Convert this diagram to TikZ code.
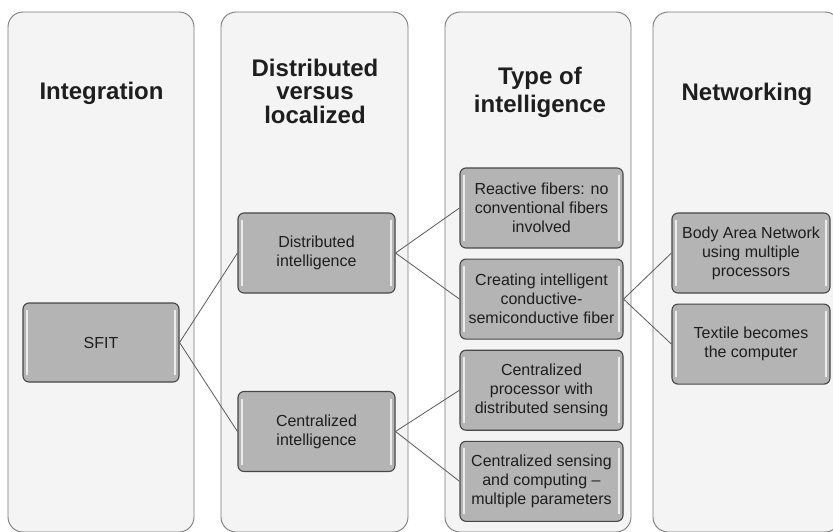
\documentclass[tikz,border=0pt]{standalone}
\usepackage{fontspec}
\setmainfont{Liberation Sans}
\usetikzlibrary{positioning}
\definecolor{panelfill}{HTML}{F4F4F4}
\definecolor{paneldraw}{HTML}{7A7A7A}
\definecolor{boxfill}{HTML}{B4B4B4}
\definecolor{boxdraw}{HTML}{474747}
\definecolor{linkcol}{HTML}{5A5A5A}
\definecolor{txt}{HTML}{1E1E1E}

\begin{document}
\begin{tikzpicture}[
    x=1pt, y=-1pt,
    panel/.style={draw=paneldraw, fill=panelfill, rounded corners=15pt,
                  line width=0.9pt, minimum width=186pt, minimum height=520pt,
                  inner sep=0pt},
    hdr/.style={font=\fontsize{24}{23.5}\selectfont\bfseries, text=txt,
                align=center, inner sep=0pt},
    box/.style={draw=boxdraw, fill=boxfill, rounded corners=6pt,
                line width=1.1pt, minimum width=157pt, minimum height=80pt,
                align=center, text=txt, inner sep=2pt,
                font=\fontsize{16}{19}\selectfont,
                path picture={
                  \draw[white, opacity=0.75, line width=2.5pt]
                    ([xshift=4pt,yshift=-7pt]path picture bounding box.north west) --
                    ([xshift=4pt,yshift=7pt]path picture bounding box.south west);
                  \draw[white, opacity=0.75, line width=2.5pt]
                    ([xshift=-4pt,yshift=-7pt]path picture bounding box.north east) --
                    ([xshift=-4pt,yshift=7pt]path picture bounding box.south east);
                }},
    link/.style={draw=linkcol, line width=0.8pt},
  ]
  \useasboundingbox (0,0) rectangle (833,531);
  \clip (0,0) rectangle (833,531);

  % Column panels
  \node[panel] (colint) at (101,272) {};
  \node[panel, minimum width=187pt] (coldist) at (314.5,272) {};
  \node[panel] (coltype) at (538,272) {};
  \node[panel, minimum width=187pt] (colnet) at (746.5,272) {};

  % Column headers
  \node[hdr] (hdrint) at (101.5,93.5) {Integration};
  \node[hdr] (hdrdist) at (315,91) {Distributed\\versus\\localized};
  \node[hdr, font=\fontsize{24}{27.5}\selectfont\bfseries] (hdrtype) at (540,92.5) {Type of\\intelligence};
  \node[hdr] (hdrnet) at (747,94) {Networking};

  % Column 1
  \node[box, minimum width=156pt, minimum height=79pt] (sfit) at (101,342.5) {SFIT};

  % Column 2
  \node[box] (distint) at (316.5,253) {Distributed\\intelligence};
  \node[box] (centint) at (316.5,431.5) {Centralized\\intelligence};

  % Column 3 (stacked)
  \node[box, minimum width=163pt] (reactive) at (541.5,208) {Reactive fibers: no\\conventional fibers\\involved};
  \node[box, minimum width=163pt, below=10pt of reactive] (creating) {Creating intelligent\\conductive-\\semiconductive fiber};
  \node[box, minimum width=163pt, below=10pt of creating] (centproc) {Centralized\\processor with\\distributed sensing};
  \node[box, minimum width=163pt, below=10pt of centproc] (centsens) {Centralized sensing\\and computing --\\multiple parameters};

  % Column 4
  \node[box, minimum width=158pt] (ban) at (751,253) {Body Area Network\\using multiple\\processors};
  \node[box, minimum width=158pt, below=10pt of ban] (textile) {Textile becomes\\the computer};

  % Links
  \draw[link] (sfit.east) -- (distint.west);
  \draw[link] (sfit.east) -- (centint.west);
  \draw[link] (distint.east) -- (reactive.west);
  \draw[link] (distint.east) -- (creating.west);
  \draw[link] (centint.east) -- (centproc.west);
  \draw[link] (centint.east) -- (centsens.west);
  \draw[link] (creating.east) -- (ban.west);
  \draw[link] (creating.east) -- (textile.west);

\end{tikzpicture}
\end{document}
